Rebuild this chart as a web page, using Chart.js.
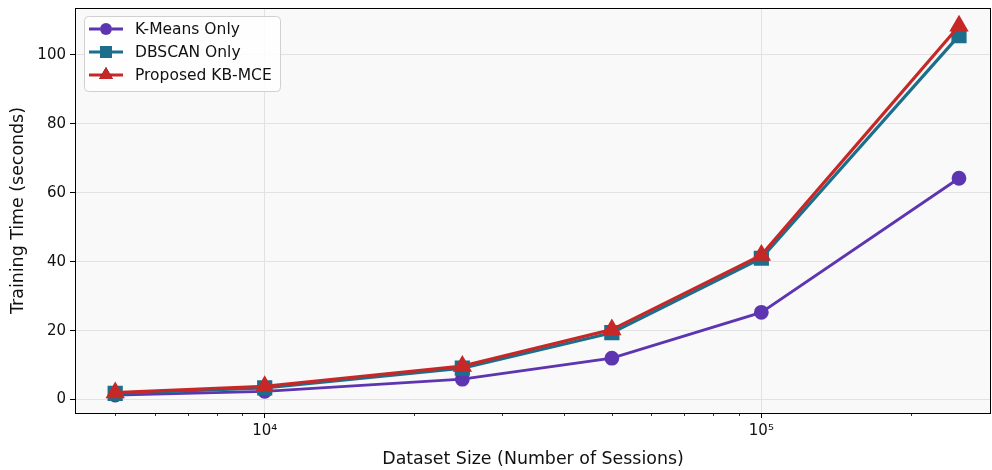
<!DOCTYPE html>
<html>
<head>
<meta charset="utf-8">
<script src="https://cdn.jsdelivr.net/npm/chart.js@4/dist/chart.umd.min.js"></script>
<style>
  html, body { margin: 0; padding: 0; background: #fff; }
  #wrap { width: 992px; height: 470px; }
</style>
</head>
<body>
<div id="wrap"><canvas id="chart" width="992" height="470"></canvas></div>
<script>
const sessions = [5000, 10000, 25000, 50000, 100000, 250000];
const kmeansTime = [1.3, 2.4, 5.9, 12.0, 25.3, 64.2];
const dbscanTime = [1.8, 3.4, 9.1, 19.4, 41.0, 105.6];
const kbmceTime = [2.0, 3.8, 9.7, 20.3, 41.9, 108.4];

const seriesNames = ['K-Means Only', 'DBSCAN Only', 'Proposed KB-MCE'];
const majorTicksX = [10000, 100000];
const minorTicksX = [5000, 6000, 7000, 8000, 9000, 20000, 30000, 40000, 50000, 60000, 70000, 80000, 90000, 200000];
const yTicks = [0, 20, 40, 60, 80, 100];

const FONT = "'DejaVu Sans', sans-serif";
const TEXT = '#111';
const colors = { kmeans: '#5e35b1', dbscan: '#1b6f8c', kbmce: '#c62828' };

function toPoints(ys) {
  return sessions.map((x, i) => ({ x: x, y: ys[i] }));
}

const datasets = [
  {
    label: seriesNames[0], data: toPoints(kmeansTime),
    borderColor: colors.kmeans, backgroundColor: colors.kmeans,
    borderWidth: 2.8, pointStyle: 'circle', pointRadius: 6, pointHoverRadius: 6, order: 3
  },
  {
    label: seriesNames[1], data: toPoints(dbscanTime),
    borderColor: colors.dbscan, backgroundColor: colors.dbscan,
    borderWidth: 3.2, pointStyle: 'rect', pointRadius: 8.5, pointHoverRadius: 8.5, order: 2
  },
  {
    label: seriesNames[2], data: toPoints(kbmceTime),
    borderColor: colors.kbmce, backgroundColor: colors.kbmce,
    borderWidth: 3.2, pointStyle: 'triangle', pointRadius: 8, pointHoverRadius: 8, order: 1
  }
];

// plot background, full frame, minor ticks and an inside legend
const framePlugin = {
  id: 'frame',
  beforeDraw(chart) {
    const { ctx, chartArea: a } = chart;
    ctx.save();
    ctx.fillStyle = '#f9f9f9';
    ctx.fillRect(a.left, a.top, a.right - a.left, a.bottom - a.top);
    ctx.restore();
  },
  afterDraw(chart) {
    const { ctx, chartArea: a } = chart;
    const xs = chart.scales.x;
    ctx.save();
    ctx.strokeStyle = '#000';
    ctx.lineWidth = 1;
    ctx.strokeRect(a.left + 0.5, a.top + 0.5, a.right - a.left - 1, a.bottom - a.top);
    ctx.beginPath();
    minorTicksX.forEach(v => {
      const px = Math.round(xs.getPixelForValue(v)) + 0.5;
      ctx.moveTo(px, a.bottom);
      ctx.lineTo(px, a.bottom + 3);
    });
    ctx.lineWidth = 0.8;
    ctx.stroke();

    // legend
    const lx = 84, ly = 16, lw = 196, lh = 75;
    ctx.beginPath();
    ctx.roundRect(lx + 0.5, ly + 0.5, lw, lh, 4);
    ctx.fillStyle = 'rgba(255,255,255,0.85)';
    ctx.fill();
    ctx.strokeStyle = '#d0d0d0';
    ctx.lineWidth = 1;
    ctx.stroke();
    chart.data.datasets.forEach((ds, i) => {
      const cy = ly + 13 + i * 23;
      ctx.beginPath();
      ctx.moveTo(lx + 5, cy);
      ctx.lineTo(lx + 39, cy);
      ctx.strokeStyle = ds.borderColor;
      ctx.lineWidth = ds.borderWidth;
      ctx.stroke();
      Chart.helpers.drawPoint(ctx, {
        pointStyle: ds.pointStyle, rotation: 0, radius: ds.pointRadius, borderWidth: 0
      }, lx + 22, cy);
      ctx.fillStyle = ds.backgroundColor;
      ctx.fill();
      ctx.fillStyle = TEXT;
      ctx.font = '15.5px ' + FONT;
      ctx.textBaseline = 'middle';
      ctx.textAlign = 'left';
      ctx.fillText(ds.label, lx + 51, cy + 1);
    });
    ctx.restore();
  }
};

new Chart(document.getElementById('chart'), {
  type: 'line',
  data: { datasets: datasets },
  options: {
    responsive: false,
    animation: false,
    events: [],
    layout: { autoPadding: false, padding: { top: 8, right: 1, left: 0, bottom: 0 } },
    plugins: { legend: { display: false }, tooltip: { enabled: false } },
    scales: {
      x: {
        type: 'logarithmic',
        min: 4150,
        max: 290000,
        afterBuildTicks(scale) { scale.ticks = majorTicksX.map(v => ({ value: v })); },
        afterFit(scale) {
          scale.height = 57;
          scale.paddingLeft = 0;
          scale.paddingRight = 0;
        },
        ticks: {
          autoSkip: false,
          maxRotation: 0,
          padding: 4,
          color: TEXT,
          font: { family: FONT, size: 15 },
          callback: v => v === 10000 ? '10\u2074' : '10\u2075'
        },
        grid: { color: '#e2e2e2', lineWidth: 1, tickColor: '#000', tickLength: 5 },
        border: { display: false },
        title: {
          display: true, text: 'Dataset Size (Number of Sessions)', color: TEXT,
          font: { family: FONT, size: 17.4 }, padding: { top: 2, bottom: 0 }
        }
      },
      y: {
        min: -3.9,
        max: 113.6,
        afterBuildTicks(scale) { scale.ticks = yTicks.map(v => ({ value: v })); },
        afterFit(scale) {
          scale.width = 75;
          scale.paddingTop = 0;
          scale.paddingBottom = 0;
        },
        ticks: {
          padding: 4,
          color: TEXT,
          font: { family: FONT, size: 15 }
        },
        grid: { color: '#e2e2e2', lineWidth: 1, tickColor: '#000', tickLength: 5 },
        border: { display: false },
        title: {
          display: true, text: 'Training Time (seconds)', color: TEXT,
          font: { family: FONT, size: 17.4 }, padding: { top: 8, bottom: 0 }
        }
      }
    }
  },
  plugins: [framePlugin]
});
</script>
</body>
</html>
